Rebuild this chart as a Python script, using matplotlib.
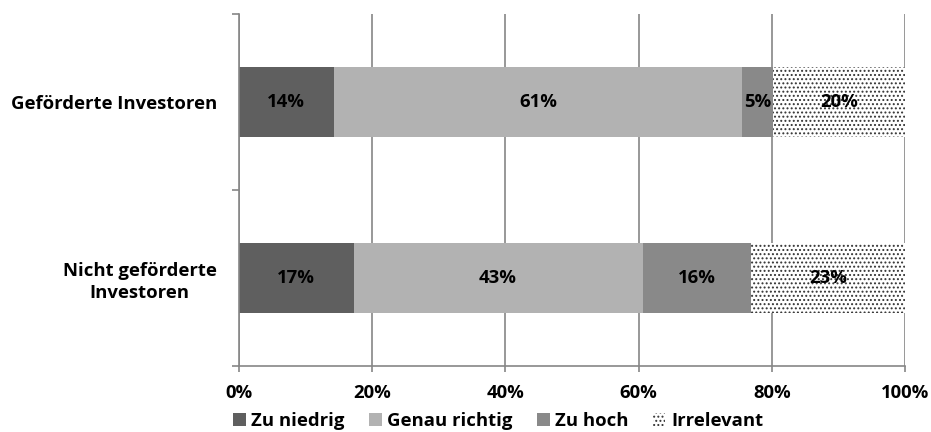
import matplotlib
matplotlib.use("Agg")
import matplotlib.pyplot as plt
import numpy as np

categories = ["Nicht geförderte\nInvestoren", "Geförderte Investoren"]
series_names = ["Zu niedrig", "Genau richtig", "Zu hoch", "Irrelevant"]
zu_niedrig = [17.2, 14.2]
genau_richtig = [43.4, 61.4]
zu_hoch = [16.3, 4.6]
irrelevant = [23.1, 19.8]
x_ticks = [0, 20, 40, 60, 80, 100]
x_tick_labels = ["0%", "20%", "40%", "60%", "80%", "100%"]

series = [zu_niedrig, genau_richtig, zu_hoch, irrelevant]
colors = ["#5f5f5f", "#b2b2b2", "#898989", "white"]
hatches = [None, None, None, "...."]

plt.rcParams['font.family'] = ['Open Sans', 'DejaVu Sans']
plt.rcParams['font.weight'] = 'bold'
plt.rcParams['hatch.linewidth'] = 0.9

FS = 13.3

fig = plt.figure(figsize=(9.31, 4.32), dpi=100)
ax = fig.add_axes([239/931, 1-366/432, (905-239)/931, (366-14)/432])

y = np.arange(len(categories))
left = np.zeros(len(categories))
for vals, name, c, h in zip(series, series_names, colors, hatches):
    vals = np.array(vals)
    if h:
        ax.barh(y, vals, left=left, height=0.4, color=c, hatch=h,
                edgecolor="#333333", linewidth=0, label=name, zorder=2)
    else:
        ax.barh(y, vals, left=left, height=0.4, color=c,
                linewidth=0, label=name, zorder=2)
    for yi, l, v in zip(y, left, vals):
        ax.text(l + v/2, yi, f"{round(v):d}%", ha="center", va="center",
                fontsize=FS, fontweight="bold", color="black", zorder=3)
    left += vals

ax.set_xlim(0, 100)
ax.set_ylim(-0.5, 1.5)
ax.set_xticks(x_ticks)
ax.set_xticklabels(x_tick_labels, fontsize=FS, fontweight="bold")
ax.set_yticks(y)
ax.set_yticklabels(categories, fontsize=FS, fontweight="bold",
                   multialignment="center", linespacing=1.3)
ax.set_yticks([-0.5, 0.5, 1.5], minor=True)
ax.tick_params(axis="y", which="major", length=0, pad=16)
ax.tick_params(axis="y", which="minor", length=5, color="#868686", width=1.2)
ax.tick_params(axis="x", which="major", length=4, color="#868686", width=1.2, pad=9)

ax.grid(axis="x", color="#868686", linewidth=1.2, zorder=0)
ax.set_axisbelow(True)
for s in ["top", "right"]:
    ax.spines[s].set_visible(False)
for s in ["left", "bottom"]:
    ax.spines[s].set_color("#868686")
    ax.spines[s].set_linewidth(1.2)

fig.legend(loc="center", bbox_to_anchor=(498/931, 1-421/432), ncol=4,
           frameon=False, fontsize=FS, handlelength=0.7, handleheight=0.7,
           handletextpad=0.3, columnspacing=1.3, borderpad=0)

fig.savefig("out.png", dpi=100)
